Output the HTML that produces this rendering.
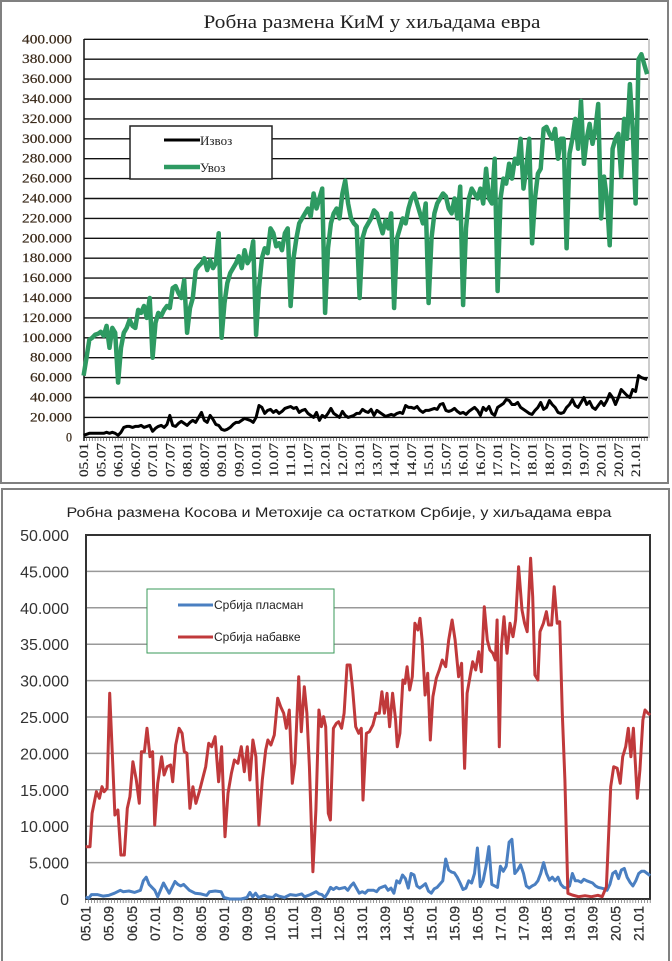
<!DOCTYPE html>
<html><head><meta charset="utf-8"><style>
html,body{margin:0;padding:0;background:#fff;}
svg{display:block;}
</style></head><body>
<svg id="s" width="672" height="961" viewBox="0 0 672 961" xmlns="http://www.w3.org/2000/svg">
<rect x="0" y="0" width="672" height="961" fill="#fff"/>
<rect x="1" y="1" width="667" height="482" fill="none" stroke="#808080" stroke-width="2"/>
<rect x="2" y="489" width="667" height="480" fill="none" stroke="#808080" stroke-width="2"/>

<text x="372" y="28" text-anchor="middle" font-family="Liberation Serif, serif" font-size="19" textLength="337" lengthAdjust="spacingAndGlyphs" fill="#222">Робна размена КиМ у хиљадама евра</text>
<g id="topgrid"></g>
<g id="toplab" font-family="Liberation Serif, serif" font-size="13" fill="#3a2a1a" stroke="#3a2a1a" stroke-width="0.2"></g>
<g id="topx" font-family="Liberation Serif, serif" font-size="13" fill="#222" stroke="#222" stroke-width="0.2"></g>
<g id="topser"></g>
<rect x="130" y="126" width="142" height="53" fill="#fff" stroke="#222" stroke-width="1.5"/>
<line x1="164" y1="140" x2="200" y2="140" stroke="#000" stroke-width="3"/>
<text x="200" y="145" font-family="Liberation Serif, serif" font-size="13" fill="#222">Извоз</text>
<line x1="164" y1="167" x2="200" y2="167" stroke="#2e9a62" stroke-width="4.5"/>
<text x="200" y="172" font-family="Liberation Serif, serif" font-size="13" fill="#222">Увоз</text>

<text x="339" y="517" text-anchor="middle" font-family="Liberation Sans, sans-serif" font-size="14" textLength="545" lengthAdjust="spacingAndGlyphs" fill="#222">Робна размена Косова и  Метохије са остатком Србије, у хиљадама евра</text>
<g id="botgrid"></g>
<g id="botlab" font-family="Liberation Sans, sans-serif" font-size="16" fill="#333"></g>
<g id="botx" font-family="Liberation Sans, sans-serif" font-size="14" fill="#333" stroke="#333" stroke-width="0.3"></g>
<g id="botser"></g>
<rect x="147" y="589" width="187" height="64" fill="#fff" stroke="#3a9a5a" stroke-width="1"/>
<line x1="178" y1="605" x2="213" y2="605" stroke="#4a7fc1" stroke-width="3"/>
<text x="214" y="609" font-family="Liberation Sans, sans-serif" font-size="12" fill="#222">Србија пласман</text>
<line x1="178" y1="637" x2="213" y2="637" stroke="#c0393b" stroke-width="3"/>
<text x="214" y="641" font-family="Liberation Sans, sans-serif" font-size="12" fill="#222">Србија набавке</text>
</svg>
<script>
var NS="http://www.w3.org/2000/svg";
function el(p,t,a,txt){var e=document.createElementNS(NS,t);for(var k in a)e.setAttribute(k,a[k]);if(txt!==undefined)e.textContent=txt;document.getElementById(p).appendChild(e);return e;}
function fmt(v){if(v==0)return "0";var s=String(v);return s.slice(0,s.length-3)+"."+s.slice(-3);}
var TX0=83.6,TDX=2.875,TY0=437.3,TK=0.995;
for(var i=0;i<=20;i++){var y=TY0-i*20*TK;
 el("topgrid","line",{x1:84,y1:y,x2:648,y2:y,stroke:"#111","stroke-width":1.4});
 el("toplab","text",{x:72,y:y+4,"text-anchor":"end",textLength:i==0?6:(i<5?42:50),lengthAdjust:"spacingAndGlyphs"},fmt(i*20000));}
el("topgrid","line",{x1:84,y1:39,x2:84,y2:441,stroke:"#111","stroke-width":1.5});
el("topgrid","line",{x1:649,y1:39,x2:649,y2:438,stroke:"#999","stroke-width":1});
for(var m=0;m<=196;m++){var x=TX0+m*TDX;el("topgrid","line",{x1:x,y1:437,x2:x,y2:441,stroke:"#333","stroke-width":0.6});}
for(var m=0;m<=192;m+=6){var x=TX0+m*TDX+4.5;var yy=5+Math.floor(m/12),mm=m%12==0?"01":"07";
 el("topx","text",{x:0,y:0,transform:"translate("+x+",443) rotate(-90)","text-anchor":"end",textLength:34,lengthAdjust:"spacingAndGlyphs"},(yy<10?"0":"")+yy+"."+mm);}
var G=[62,80,98,100,103,104,106,102,112,90,110,105,
55,90,105,110,118,112,110,128,125,132,120,140,
80,115,125,122,128,132,130,150,152,145,140,158,
105,130,140,168,172,175,180,168,178,170,175,205,
100,135,155,165,170,175,182,170,188,175,180,197,
103,150,180,190,185,210,205,192,195,188,205,210,
132,180,200,215,220,225,230,222,245,230,240,250,
125,190,215,225,230,220,245,258,235,220,215,212,
140,200,210,215,220,228,225,215,205,218,210,225,
130,200,210,220,215,230,240,245,235,225,215,235,
135,200,225,235,240,245,242,230,225,240,220,252,
133,210,240,250,245,240,250,235,270,240,235,280,
147,240,260,255,275,260,280,275,300,250,270,300,
195,240,265,270,310,312,305,300,310,280,300,300,
190,285,300,320,290,338,275,300,315,295,310,335,
220,262,240,193,290,300,305,262,320,300,355,310,
235,380,385,375,365];
var B=[2,3,4,4,4,4,4,4,5,4,5,4,
2,5,10,11,11,10,11,11,12,10,11,12,
6,9,11,12,10,13,22,12,11,14,16,14,
12,15,17,15,20,25,17,15,22,18,13,12,
8,7,8,10,13,15,15,17,19,18,17,15,
20,32,30,24,27,28,25,27,24,26,29,30,
31,29,30,25,27,28,24,22,20,25,17,22,
20,24,29,24,22,20,26,22,20,21,22,24,
24,28,26,25,28,22,27,25,23,21,22,23,
22,24,25,24,32,30,30,29,31,27,25,27,
27,28,29,28,33,34,27,26,27,29,26,24,
25,23,26,28,30,27,22,30,27,31,24,22,
30,32,34,38,37,33,33,35,30,28,26,24,
23,27,30,35,28,30,37,33,30,25,24,25,
30,33,38,32,30,35,40,33,36,30,28,32,
36,32,37,44,40,33,40,48,45,42,40,48,
46,62,60,59,58];
function tp(a){return a.map(function(v,i){return (TX0+i*TDX).toFixed(1)+","+(TY0-v*TK).toFixed(1);}).join(" ");}
el("topser","polyline",{points:tp(B),fill:"none",stroke:"#000","stroke-width":3,"stroke-linejoin":"round"});
el("topser","polyline",{points:tp(G),fill:"none",stroke:"#2e9a62","stroke-width":4.5,"stroke-linejoin":"round"});
var BX0=85.7,BDX=2.88,BY0=899,BK=7.28;
for(var i=0;i<=10;i++){var y=BY0-i*5*BK;
 if(i>0&&i<10)el("botgrid","line",{x1:86,y1:y,x2:650,y2:y,stroke:"#999","stroke-width":1.5});
 el("botlab","text",{x:69,y:y+6,"text-anchor":"end"},fmt(i*5000));}
el("botgrid","rect",{x:86,y:535,width:564,height:364,fill:"none",stroke:"#333","stroke-width":2});
for(var m=0;m<=196;m++){var x=BX0+m*BDX;el("botgrid","line",{x1:x,y1:899,x2:x,y2:903,stroke:"#555","stroke-width":0.6});}
for(var m=0;m<=192;m+=8){var x=BX0+m*BDX+5;var yy=5+Math.floor(m/12),mo=m%12+1;
 el("botx","text",{x:0,y:0,transform:"translate("+x+",906) rotate(-90)","text-anchor":"end"},(yy<10?"0":"")+yy+"."+(mo<10?"0":"")+mo);}
var R=[200,1100,210,1100,215,1000,225,935,232,955,238,920,243,935,250,925,256,640,262,820,268,1005,275,990,282,1125,290,1125,297,985,303,950,310,845,318,900,325,970,330,815,337,815,343,745,350,830,356,815,361,1035,368,910,377,830,383,885,390,860,398,855,403,905,410,795,418,745,425,760,430,815,436,820,443,985,450,920,457,970,465,935,472,900,480,860,487,790,494,800,502,770,510,905,517,800,525,1070,532,940,540,880,547,840,555,850,563,800,570,875,577,800,583,900,590,780,597,830,604,1035,612,900,620,810,625,780,632,795,640,765,648,655,655,680,662,700,668,745,675,690,682,910,688,850,697,590,703,755,710,620,716,700,722,860,730,1175,737,990,744,690,750,740,755,710,760,740,766,1000,771,1020,778,745,785,730,790,725,797,745,803,700,810,555,817,555,823,630,830,740,837,760,843,745,847,960,855,760,862,755,870,735,877,700,885,700,891,635,897,700,903,640,909,740,916,640,923,720,927,800,933,760,940,600,945,610,950,560,956,630,962,590,968,430,975,450,980,415,985,480,992,645,998,580,1004,780,1010,650,1018,595,1025,570,1032,540,1040,560,1047,480,1055,420,1062,480,1070,590,1077,550,1084,865,1090,640,1098,580,1103,545,1110,570,1117,515,1123,575,1130,380,1137,480,1143,510,1150,520,1156,540,1160,420,1165,800,1170,500,1176,410,1183,520,1190,430,1197,470,1203,420,1210,260,1218,390,1224,430,1230,455,1238,235,1243,350,1248,585,1255,600,1260,455,1268,430,1275,395,1280,435,1287,435,1293,320,1300,430,1306,425,1312,700,1318,900,1325,1240,1335,1245,1350,1250,1365,1247,1380,1250,1395,1246,1405,1250,1415,1220,1425,920,1432,860,1440,865,1447,910,1453,830,1460,800,1466,745,1472,830,1478,745,1487,955,1493,870,1500,720,1505,690,1512,700,1517,705];
var rp=[];for(var i=0;i<R.length;i+=2){rp.push((R[i]/2.3333).toFixed(1)+","+(480+R[i+1]/3).toFixed(1));}
var BL=[0,0.3,1,0.1,2,0.6,4,0.6,6,0.4,8,0.5,10,0.8,12,1.2,13,1,15,1.1,17,0.9,19,1.2,20,2.5,21,3,22,2,24,1.2,25,0.3,27,2.2,28,1.5,29,0.8,31,2.4,32,2,33,1.8,34,2,36,1.2,38,0.8,40,0.7,42,0.5,43,1,45,1.1,47,1,48,0.2,50,0,54,0,56,0.2,57,0.9,58,0.3,59,0.8,60,0.2,62,0.5,63,0.3,65,0.2,66,0.6,67,0.4,69,0.2,71,0.6,73,0.5,75,0.7,76,0.3,78,0.6,80,1,81,0.7,82,0.6,83,0.2,84,0.8,85,1.6,86,1.3,87,1.6,88,1.4,90,1.6,91,1.2,92,1.8,93,2.2,94,1.5,95,0.8,96,1,97,0.8,98,1.2,100,1.2,101,1,102,1.5,104,1.8,105,1.2,106,1.5,107,0.8,108,2.5,109,2.2,110,3.3,111,2.8,112,1.5,113,3.5,114,3.3,115,1.8,116,1.5,117,1.8,118,2.1,119,1.1,120,0.8,121,1.4,122,1.6,124,2.5,125,5.5,126,4,127,3.7,128,3.6,129,3.0,130,2.2,131,1.3,132,1.5,133,2.5,134,2.2,135,3.5,136,7,137,1.7,138,2.5,139,4.5,140,7.2,141,2,142,1.8,143,1.6,144,4.5,145,3.8,146,4.5,147,7.8,148,8.2,149,3.5,150,4,151,4.7,152,3.5,153,1.8,154,1.5,155,1.8,156,2,157,2.5,158,3.5,159,5,160,3.5,161,2.6,162,3,163,2.5,164,3,165,2,166,1.6,167,1.5,168,1.8,169,3.5,170,2.5,171,2.5,172,2.3,173,2.7,174,2.5,176,2.2,177,1.8,178,1.6,179,1.5,180,1.4,181,1.2,182,2,183,3.5,184,3.8,185,2.8,186,4,187,4.2,188,3,189,2.3,190,1.8,191,2.5,192,3.5,193,3.8,194,3.8,195,3.5,196,3.2];
var bp=[];for(var i=0;i<BL.length;i+=2){bp.push((BX0+BL[i]*BDX).toFixed(1)+","+(BY0-BL[i+1]*BK).toFixed(1));}
el("botser","polyline",{points:bp.join(" "),fill:"none",stroke:"#4a7fc1","stroke-width":3,"stroke-linejoin":"round"});
el("botser","polyline",{points:rp.join(" "),fill:"none",stroke:"#c0393b","stroke-width":3,"stroke-linejoin":"round"});
</script>
</body></html>
